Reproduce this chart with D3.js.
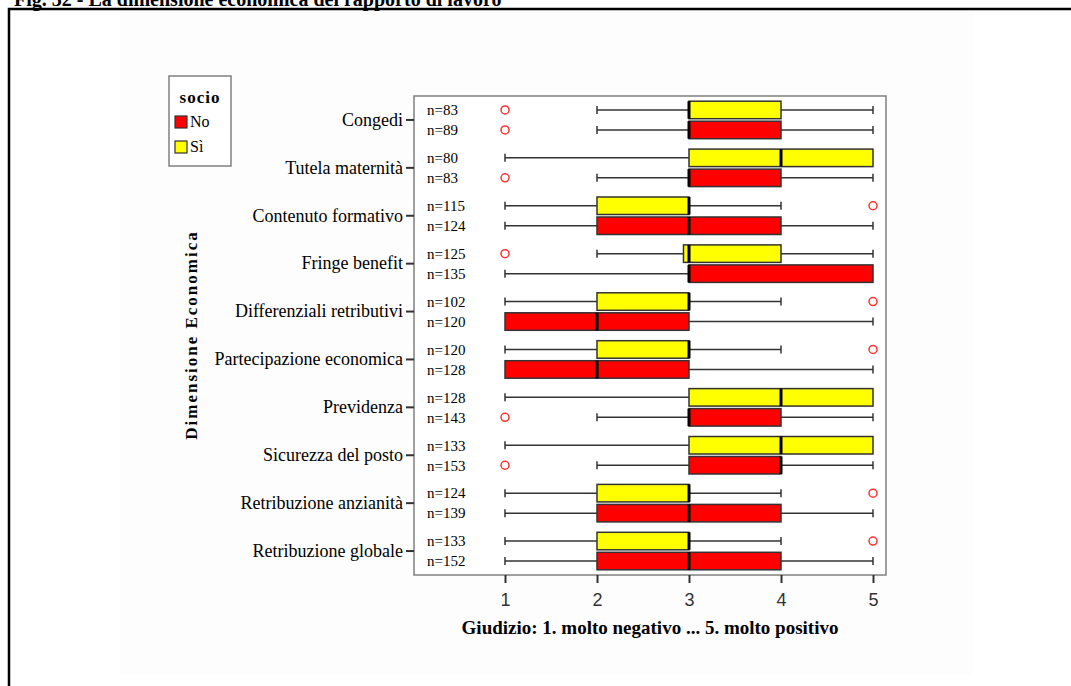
<!DOCTYPE html>
<html>
<head>
<meta charset="utf-8">
<script src="https://cdn.jsdelivr.net/npm/d3@7"></script>
<style>
    html, body { margin: 0; padding: 0; background: #fff; overflow: hidden; }
    svg { display: block; font-family: "Liberation Serif", "Times New Roman", serif; }
</style>
</head>
<body>
<div id="chart"></div>
<script>
// categories, top to bottom
const categories = [
    "Congedi",
    "Tutela maternità",
    "Contenuto formativo",
    "Fringe benefit",
    "Differenziali retributivi",
    "Partecipazione economica",
    "Previdenza",
    "Sicurezza del posto",
    "Retribuzione anzianità",
    "Retribuzione globale",
];

// socio = Sì (yellow, upper box)
const siN = [83, 80, 115, 125, 102, 120, 128, 133, 124, 133];
const siLow = [2, 1, 1, 2, 1, 1, 1, 1, 1, 1];
const siQ1 = [3, 3, 2, 2.94, 2, 2, 3, 3, 2, 2];
const siMed = [3, 4, 3, 3, 3, 3, 4, 4, 3, 3];
const siQ3 = [4, 5, 3, 4, 3, 3, 5, 5, 3, 3];
const siHigh = [5, 5, 4, 5, 4, 4, 5, 5, 4, 4];
const siOut = [[1], [], [5], [1], [5], [5], [], [], [5], [5]];

// socio = No (red, lower box)
const noN = [89, 83, 124, 135, 120, 128, 143, 153, 139, 152];
const noLow = [2, 2, 1, 1, 1, 1, 2, 2, 1, 1];
const noQ1 = [3, 3, 2, 3, 1, 1, 3, 3, 2, 2];
const noMed = [3, 3, 3, 3, 2, 2, 3, 4, 3, 3];
const noQ3 = [4, 4, 4, 5, 3, 3, 4, 4, 4, 4];
const noHigh = [5, 5, 5, 5, 5, 5, 5, 5, 5, 5];
const noOut = [[1], [1], [], [], [], [], [1], [1], [], []];

const xTicks = [1, 2, 3, 4, 5];
const groups = ["Sì", "No"];
const legendOrder = ["No", "Sì"];

const colors = { "Sì": "#FFFF00", "No": "#FF0000" };

const statsBySeries = {
    "Sì": { n: siN, low: siLow, q1: siQ1, med: siMed, q3: siQ3, high: siHigh, out: siOut },
    "No": { n: noN, low: noLow, q1: noQ1, med: noMed, q3: noQ3, high: noHigh, out: noOut },
};

const rows = categories.flatMap((cat, i) =>
    groups.map((g) => {
        const s = statsBySeries[g];
        return {
            cat, g,
            n: s.n[i], low: s.low[i], q1: s.q1[i], med: s.med[i],
            q3: s.q3[i], high: s.high[i], out: s.out[i],
        };
    }),
);

const width = 1071;
const height = 686;
const plot = { left: 414, top: 96, right: 886, bottom: 575 };

const svg = d3.select("#chart")
    .append("svg")
    .attr("width", width)
    .attr("height", height);

// chart background and document frame
svg.append("rect").attr("x", 120).attr("y", 10).attr("width", 853).attr("height", 664).attr("fill", "#fdfdfd");
svg.append("path")
    .attr("d", `M9,${height} V9 H${width}`)
    .attr("fill", "none")
    .attr("stroke", "#000")
    .attr("stroke-width", 2.5);

svg.append("text")
    .attr("x", 14)
    .attr("y", 6)
    .attr("font-size", 20)
    .attr("font-weight", "bold")
    .text("Fig. 32 - La dimensione economica del rapporto di lavoro");

const x = d3.scaleLinear().domain([1, 5]).range([505, 873]);

const y = d3.scaleBand()
    .domain(categories)
    .range([plot.top, plot.bottom]);

const yInner = d3.scaleBand()
    .domain(groups)
    .range([0, y.bandwidth()])
    .paddingInner(0.125)
    .paddingOuter(0.26);

// plot frame
svg.append("rect")
    .attr("x", plot.left)
    .attr("y", plot.top)
    .attr("width", plot.right - plot.left)
    .attr("height", plot.bottom - plot.top)
    .attr("fill", "#fff")
    .attr("stroke", "#808080")
    .attr("stroke-width", 1.5);

// x axis
const xAxis = svg.append("g")
    .attr("transform", `translate(0,${plot.bottom})`)
    .call(d3.axisBottom(x).tickValues(xTicks).tickSize(8).tickPadding(10).tickFormat(d3.format("d")));
xAxis.select(".domain").remove();
xAxis.selectAll(".tick line").attr("stroke", "#333").attr("stroke-width", 2);
xAxis.selectAll(".tick text")
    .attr("fill", "#333")
    .attr("font-size", 18)
    .attr("font-family", "'Liberation Sans Narrow', 'Liberation Sans', Arial, sans-serif");

// y axis
const yAxis = svg.append("g")
    .attr("transform", `translate(${plot.left},0)`)
    .call(d3.axisLeft(y).tickSize(8).tickPadding(3));
yAxis.select(".domain").remove();
yAxis.selectAll(".tick line").attr("stroke", "#333").attr("stroke-width", 2);
yAxis.selectAll(".tick text")
    .attr("fill", "#000")
    .attr("font-size", 18)
    .attr("font-family", "'Liberation Serif', 'Times New Roman', serif");

// axis titles
svg.append("text")
    .attr("x", 650)
    .attr("y", 634)
    .attr("text-anchor", "middle")
    .attr("font-size", 19)
    .attr("font-weight", "bold")
    .text("Giudizio: 1. molto negativo ... 5. molto positivo");

svg.append("text")
    .attr("transform", "translate(197,335) rotate(-90)")
    .attr("text-anchor", "middle")
    .attr("font-size", 17)
    .attr("font-weight", "bold")
    .attr("letter-spacing", 2)
    .text("Dimensione Economica");

// boxes
const capH = 8;
const box = svg.append("g")
    .selectAll("g")
    .data(rows)
    .join("g")
    .attr("transform", (d) => `translate(0,${y(d.cat) + yInner(d.g)})`);

const bh = yInner.bandwidth();

box.filter((d) => d.low < d.q1).append("line")
    .attr("x1", (d) => x(d.low)).attr("x2", (d) => x(d.q1))
    .attr("y1", bh / 2).attr("y2", bh / 2);
box.filter((d) => d.low < d.q1).append("line")
    .attr("x1", (d) => x(d.low)).attr("x2", (d) => x(d.low))
    .attr("y1", bh / 2 - capH / 2).attr("y2", bh / 2 + capH / 2);
box.filter((d) => d.high > d.q3).append("line")
    .attr("x1", (d) => x(d.q3)).attr("x2", (d) => x(d.high))
    .attr("y1", bh / 2).attr("y2", bh / 2);
box.filter((d) => d.high > d.q3).append("line")
    .attr("x1", (d) => x(d.high)).attr("x2", (d) => x(d.high))
    .attr("y1", bh / 2 - capH / 2).attr("y2", bh / 2 + capH / 2);
box.selectAll("line").attr("stroke", "#333").attr("stroke-width", 1.5);

box.append("rect")
    .attr("x", (d) => x(d.q1))
    .attr("width", (d) => x(d.q3) - x(d.q1))
    .attr("height", bh)
    .attr("fill", (d) => colors[d.g])
    .attr("stroke", "#333")
    .attr("stroke-width", 1.5);

box.append("line")
    .attr("x1", (d) => x(d.med)).attr("x2", (d) => x(d.med))
    .attr("y1", 0).attr("y2", bh)
    .attr("stroke", "#000")
    .attr("stroke-width", 3);

box.selectAll("circle")
    .data((d) => d.out)
    .join("circle")
    .attr("cx", (v) => x(v))
    .attr("cy", bh / 2)
    .attr("r", 4)
    .attr("fill", "none")
    .attr("stroke", "#ff3333")
    .attr("stroke-width", 1.5);

box.append("text")
    .attr("x", 427)
    .attr("y", bh / 2)
    .attr("dy", "0.35em")
    .attr("font-size", 15)
    .text((d) => `n=${d.n}`);

// legend
const legend = svg.append("g").attr("transform", "translate(169,76)");
legend.append("rect")
    .attr("width", 62).attr("height", 90)
    .attr("fill", "#fff")
    .attr("stroke", "#808080")
    .attr("stroke-width", 1.5);
legend.append("text")
    .attr("x", 31).attr("y", 27)
    .attr("text-anchor", "middle")
    .attr("font-size", 17)
    .attr("font-weight", "bold")
    .attr("letter-spacing", 1)
    .text("socio");
const item = legend.selectAll(".item")
    .data(legendOrder)
    .join("g")
    .attr("class", "item")
    .attr("transform", (d, i) => `translate(6,${40 + i * 25})`);
item.append("rect")
    .attr("width", 12).attr("height", 12)
    .attr("fill", (d) => colors[d])
    .attr("stroke", "#333")
    .attr("stroke-width", 1.2);
item.append("text")
    .attr("x", 15).attr("y", 11)
    .attr("font-size", 16)
    .text((d) => d);
</script>
</body>
</html>
